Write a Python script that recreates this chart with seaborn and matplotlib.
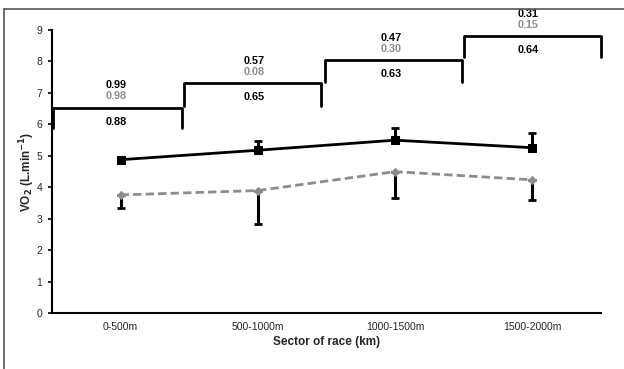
import numpy as np
import pandas as pd
import matplotlib
matplotlib.use("Agg")
import matplotlib.pyplot as plt
import seaborn as sns
from matplotlib.lines import Line2D

sectors = ["0-500m", "500-1000m", "1000-1500m", "1500-2000m"]
black_mean = [4.88, 5.18, 5.50, 5.26]
black_err_up = [0.06, 0.29, 0.38, 0.48]
gray_mean = [3.76, 3.90, 4.50, 4.24]
gray_err_down = [0.40, 1.06, 0.84, 0.64]
yticks = [0, 1, 2, 3, 4, 5, 6, 7, 8, 9]

# bracket annotations: (black top, gray top, black below)
top_black = ["0.99", "0.57", "0.47", "0.31"]
top_gray = ["0.98", "0.08", "0.30", "0.15"]
below_black = ["0.88", "0.65", "0.63", "0.64"]
bracket_top = [6.53, 7.31, 8.04, 8.80]
bracket_drop = [0.65, 0.71, 0.68, 0.66]

sns.set_style("white")
plt.rcParams['font.family'] = ['Liberation Sans', 'DejaVu Sans']

fig = plt.figure(figsize=(6.24, 3.69), dpi=100)
ax = fig.add_axes([52/624, 1 - 313.3/369, (601-52)/624, (313.3-30)/369])

x = np.arange(len(sectors))
df = pd.DataFrame({"x": np.concatenate([x, x]),
                   "y": black_mean + gray_mean,
                   "s": ["a"]*4 + ["b"]*4})

# error bars (drawn first so lines sit on top)
ax.errorbar(x, black_mean, yerr=[np.zeros(4), black_err_up], fmt='none',
            ecolor='black', elinewidth=2.2, capsize=3, capthick=2, zorder=2)
ax.errorbar(x, gray_mean, yerr=[gray_err_down, np.zeros(4)], fmt='none',
            ecolor='black', elinewidth=2.2, capsize=3, capthick=2, zorder=2)

sns.lineplot(data=df[df.s == "a"], x="x", y="y", ax=ax, color="black",
             linewidth=2, marker="s", markersize=5.5, markeredgecolor="black",
             zorder=4, legend=False)
sns.lineplot(data=df[df.s == "b"], x="x", y="y", ax=ax, color="#8c8c8c",
             linewidth=2, linestyle=(0, (3, 1.5)), marker="D", markersize=4,
             markeredgecolor="#8c8c8c", zorder=3, legend=False)

ax.set_xlim(-0.5, 3.5)
ax.set_ylim(0, 9)
ax.set_yticks(yticks)
ax.set_yticklabels([str(v) for v in yticks], fontsize=7.5)
ax.set_xticks(x)
ax.set_xticklabels(sectors, fontsize=7.5)
ax.set_xticks([-0.5, 0.5, 1.5, 2.5, 3.5], minor=True)
ax.tick_params(axis='x', which='major', length=0, pad=6)
ax.tick_params(axis='x', which='minor', direction='inout', length=6, width=1.2, color='black')
ax.tick_params(axis='y', direction='out', length=3, width=1.2, color='black', pad=4, left=True)
for sp in ["top", "right"]:
    ax.spines[sp].set_visible(False)
for sp in ["left", "bottom"]:
    ax.spines[sp].set_color("black")
    ax.spines[sp].set_linewidth(1.5)

ax.set_xlabel("Sector of race (km)", fontsize=8.5, fontweight='bold', labelpad=3)
ax.set_ylabel(r"VO$_\mathbf{2}$ (L.min$^\mathbf{-1}$)", fontsize=8.5, fontweight='bold')
ax.yaxis.set_label_coords(-0.028, 0.5)

# brackets
starts = [-0.49, 0.46, 1.49, 2.5]
ends = [0.45, 1.46, 2.49, 3.5]
for i in range(4):
    t = bracket_top[i]
    d = bracket_drop[i]
    ax.plot([starts[i], starts[i], ends[i], ends[i]], [t - d, t, t, t - d],
            color='black', lw=2, clip_on=False, solid_joinstyle='round')
    cx = i - 0.03
    ax.text(cx, t + 0.72, top_black[i], ha='center', va='center', fontsize=7.8,
            fontweight='bold', color='black', clip_on=False)
    ax.text(cx, t + 0.37, top_gray[i], ha='center', va='center', fontsize=7.8,
            fontweight='bold', color='#8c8c8c', clip_on=False)
    ax.text(cx, t - 0.45, below_black[i], ha='center', va='center', fontsize=7.8,
            fontweight='bold', color='black', clip_on=False)

# figure frame lines (top and left)
fig.add_artist(Line2D([4/624, 1], [1 - 9/369, 1 - 9/369], color='#555555', lw=1.2))
fig.add_artist(Line2D([4/624, 4/624], [0, 1 - 9/369], color='#555555', lw=1.2))

fig.savefig("out.png", dpi=100)
